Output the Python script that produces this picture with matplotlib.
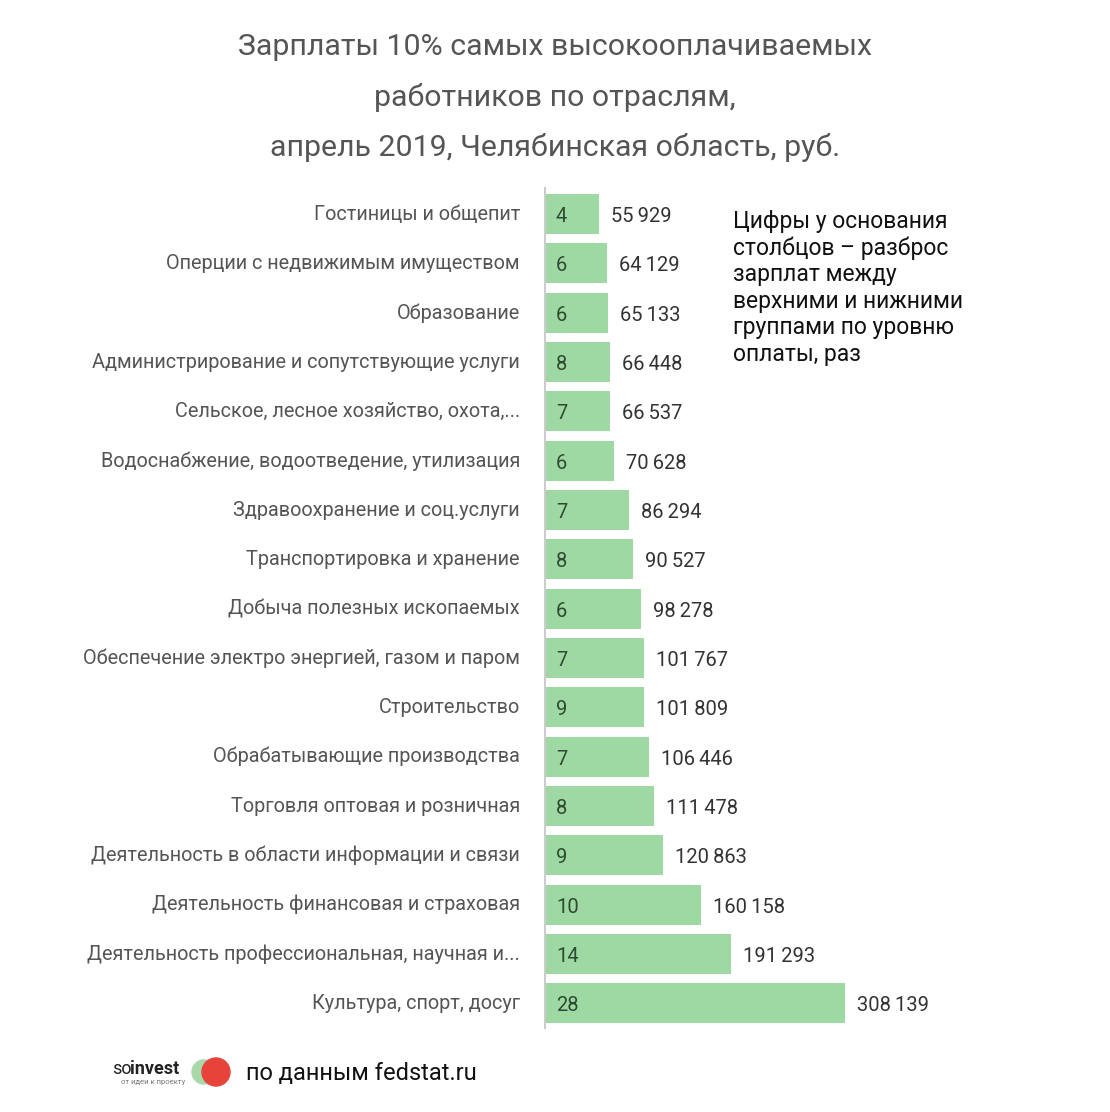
import matplotlib.pyplot as plt
from matplotlib.patches import Circle

plt.rcParams['font.family'] = ['Roboto', 'DejaVu Sans']

# данные
categories = [
    'Гостиницы и общепит',
    'Оперции с недвижимым имуществом',
    'Образование',
    'Администрирование и сопутствующие услуги',
    'Сельское, лесное хозяйство, охота,...',
    'Водоснабжение, водоотведение, утилизация',
    'Здравоохранение и соц.услуги',
    'Транспортировка и хранение',
    'Добыча полезных ископаемых',
    'Обеспечение электро энергией, газом и паром',
    'Строительство',
    'Обрабатывающие производства',
    'Торговля оптовая и розничная',
    'Деятельность в области информации и связи',
    'Деятельность финансовая и страховая',
    'Деятельность профессиональная, научная и...',
    'Культура, спорт, досуг',
]
salaries = [55929, 64129, 65133, 66448, 66537, 70628, 86294, 90527, 98278,
            101767, 101809, 106446, 111478, 120863, 160158, 191293, 308139]
spread = [4, 6, 6, 8, 7, 6, 7, 8, 6, 7, 9, 7, 8, 9, 10, 14, 28]

W, H = 1110, 1112
fig = plt.figure(figsize=(W / 100, H / 100), dpi=100)

# оси: левый край 545 px, вертикаль 188..1028 px
ax_left, ax_right = 545, 1000
ax_top, ax_bot = 188, 1028
ax = fig.add_axes([ax_left / W, 1 - ax_bot / H, (ax_right - ax_left) / W, (ax_bot - ax_top) / H])

px_per_rub = 300 / 308139
ax.set_xlim(0, (ax_right - ax_left) / px_per_rub)
ax.set_ylim(16.5, -0.53)

ys = list(range(len(categories)))
ax.barh(ys, salaries, height=0.81, color='#9ed8a2', left=0)

for y, s, k, c in zip(ys, salaries, spread, categories):
    ax.text(s + 12 / px_per_rub, y + 0.05, f'{s:,}'.replace(',', '\u2009'), va='center', ha='left',
            fontsize=14.5, color='#333333')
    ax.text(11 / px_per_rub, y + 0.05, str(k), va='center', ha='left', fontsize=14.5, color='#2f4a33')
    ax.text(-25 / px_per_rub, y, c, va='center', ha='right', fontsize=14.3, color='#555555')

for side in ['top', 'right', 'bottom']:
    ax.spines[side].set_visible(False)
ax.spines['left'].set_color('#cccccc')
ax.spines['left'].set_linewidth(1.5)
ax.set_xticks([])
ax.set_yticks([])

# заголовок
title_lines = ['Зарплаты 10% самых высокооплачиваемых',
               'работников по отраслям,',
               'апрель 2019, Челябинская область, руб.']
for i, line in enumerate(title_lines):
    fig.text(555 / W, 1 - (47 + 50 * i) / H, line, ha='center', va='center',
             fontsize=21.8, color='#555555')

# пояснение
fig.text(733 / W, 1 - 210 / H,
         'Цифры у основания\nстолбцов – разброс\nзарплат между\nверхними и нижними\nгруппами по уровню\nоплаты, раз',
         ha='left', va='top', fontsize=16.5, color='#111111', linespacing=1.19)

# логотип и источник
fig.text(112 / W, 1 - 1069 / H, 'so', ha='left', va='center', fontsize=13, color='#222222')
fig.text(130 / W, 1 - 1069 / H, 'invest', ha='left', va='center', fontsize=13,
         fontweight='bold', color='#222222')
fig.text(121 / W, 1 - 1082 / H, 'от идеи к проекту', ha='left', va='center', fontsize=5.5,
         color='#777777')
fig.patches.append(Circle((204 / W, 1 - 1072 / H), 12 / W, transform=fig.transFigure,
                          color='#a9d9a9', zorder=1))
fig.patches.append(Circle((216 / W, 1 - 1072 / H), 14 / W, transform=fig.transFigure,
                          color='#e8433b', zorder=2))
fig.text(246 / W, 1 - 1073 / H, 'по данным fedstat.ru', ha='left', va='center',
         fontsize=17, color='#111111')

fig.savefig('out.png', dpi=100, facecolor='white')
